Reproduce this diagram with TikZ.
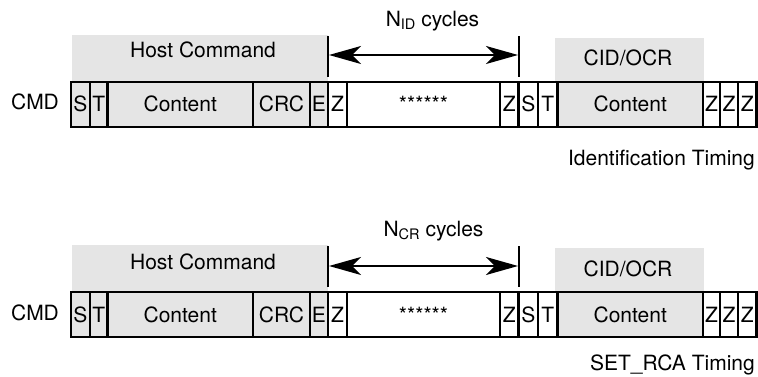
\documentclass[tikz,border=0pt]{standalone}
\usepackage{fontspec}
\setmainfont{TeX Gyre Heros}
\usetikzlibrary{arrows.meta}
\colorlet{cg}{gray!20}
\colorlet{cw}{white}
\tikzset{
  fnt/.style={font=\fontsize{21}{25}\selectfont},
  cell/.style={draw, line width=2.8pt, minimum height=45pt, inner sep=0pt,
    text height=15pt, text depth=0pt, fnt},
  graybox/.style={fill=cg, inner sep=0pt, anchor=north west},
  lbl/.style={fnt, inner sep=0pt},
  vline/.style={line width=1.8pt},
  arr/.style={line width=1.7pt, {Stealth[length=32pt,width=18pt,inset=9pt]}-{Stealth[length=32pt,width=18pt,inset=9pt]}}
}
\begin{document}
\begin{tikzpicture}[x=1pt,y=-1pt]
\useasboundingbox (0,0) rectangle (758,377);

% gray header boxes
\node[graybox, minimum width=256pt, minimum height=46pt] (hc1) at (72,35) {};
\node[graybox, minimum width=149pt, minimum height=43pt] (cid1) at (555,38) {};
\node[graybox, minimum width=256pt, minimum height=46pt] (hc2) at (72,245) {};
\node[graybox, minimum width=149pt, minimum height=43pt] (cid2) at (555,248) {};

\node[lbl, anchor=base] (hct1) at (203,58) {Host Command};
\node[lbl, anchor=base] (cidt1) at (628,66) {CID/OCR};
\node[lbl, anchor=base] (hct2) at (203,269) {Host Command};
\node[lbl, anchor=base] (cidt2) at (628,276) {CID/OCR};

% rows of cells
\foreach \row/\yc in {a/104.5, b/314.5} {
  \foreach \c/\w/\t/\f [count=\i] in {
    80.5/19/S/cg, 98.75/17.5/T/cg, 180.25/145.5/Content/cg, 281.5/57/CRC/cg,
    319/18/E/cg, 337.5/19/Z/cw, 423.5/153/******/cw, 509.25/18.5/Z/cw,
    528.25/19.5/S/cw, 547.75/19.5/T/cw, 630.25/145.5/Content/cg,
    711.5/17/Z/cw, 729/18/Z/cw, 747.25/18.5/Z/cw} {
    \node[cell, fill=\f, minimum width=\w pt] (\row\i) at (\c,\yc) {\t};
  }
}

% CMD labels
\node[lbl, anchor=base] (cmd1) at (35,110) {CMD};
\node[lbl, anchor=base] (cmd2) at (35,320) {CMD};

% timing lines and arrows
\coordinate (l1t) at (328,36); \coordinate (l1b) at (328,77);
\coordinate (r1t) at (519,36); \coordinate (r1b) at (519,77);
\coordinate (l2t) at (328,246); \coordinate (l2b) at (328,287);
\coordinate (r2t) at (519,246); \coordinate (r2b) at (519,287);
\draw[vline] (l1t) -- (l1b);
\draw[vline] (r1t) -- (r1b);
\draw[vline] (l2t) -- (l2b);
\draw[vline] (r2t) -- (r2b);
\coordinate (al1) at (329,55); \coordinate (ar1) at (518,55);
\coordinate (al2) at (329,266); \coordinate (ar2) at (518,266);
\draw[arr] (al1) -- (ar1);
\draw[arr] (al2) -- (ar2);

\node[lbl, anchor=base] (n1) at (432.5,27) {N\raisebox{-3pt}{\fontsize{14.5}{15}\selectfont ID} cycles};
\node[lbl, anchor=base] (n2) at (433.5,236) {N\raisebox{-3pt}{\fontsize{14.5}{15}\selectfont CR} cycles};

\node[lbl, anchor=base east] (it) at (755,166) {Identification Timing};
\node[lbl, anchor=base east] (st) at (755,370) {SET\_RCA Timing};
\end{tikzpicture}
\end{document}
